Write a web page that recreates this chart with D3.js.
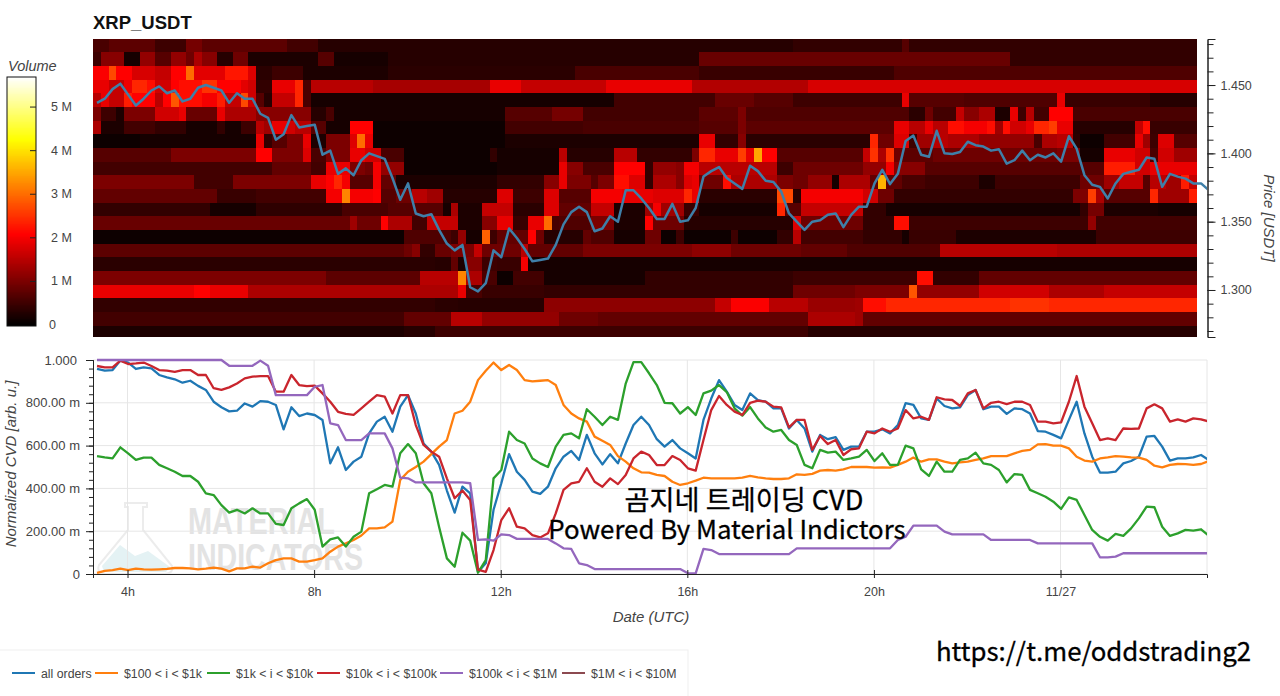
<!DOCTYPE html>
<html><head><meta charset="utf-8">
<script src="https://cdn.jsdelivr.net/npm/d3@7/dist/d3.min.js"></script>
<style>html,body{margin:0;padding:0;background:#fff}svg{display:block}text{font-family:"Liberation Sans",Arial,sans-serif}</style>
</head><body><svg id="c" width="1280" height="696"></svg>
<script>
const title="XRP_USDT";
const xTickHours=[4,8,12,16,20,24];
const xTickLabels=["4h","8h","12h","16h","20h","11/27"];
const priceTicks=[1.30,1.35,1.40,1.45];
const cvdTicks=[0,0.2,0.4,0.6,0.8,1];
const cvdTickLabels=["0","200.00 m","400.00 m","600.00 m","800.00 m","1.000"];
const volTicks=[0,1,2,3,4,5];
const volTickLabels=["0","1 M","2 M","3 M","4 M","5 M"];
const seriesNames=["all orders","$100 < i < $1k","$1k < i < $10k","$10k < i < $100k","$100k < i < $1M","$1M < i < $10M"];
const seriesColors=["#1f77b4","#ff7f0e","#2ca02c","#c9252d","#9467bd","#8c4a50"];

const price=[1.437,1.440,1.447,1.451,1.443,1.435,1.440,1.446,1.449,1.444,1.446,1.438,1.440,1.448,1.450,1.448,1.446,1.437,1.444,1.440,1.440,1.429,1.426,1.410,1.414,1.428,1.419,1.420,1.421,1.399,1.402,1.385,1.389,1.384,1.395,1.400,1.398,1.396,1.382,1.366,1.378,1.356,1.354,1.3555,
1.344,1.334,1.329,1.333,1.302,1.299,1.305,1.329,1.324,1.345,1.338,1.330,1.321,1.322,1.323,1.333,1.348,1.357,1.361,1.357,1.343,1.345,1.354,1.350,1.373,1.373,1.367,1.360,1.352,1.352,1.363,1.350,1.351,1.360,1.383,1.387,1.390,1.382,1.378,1.374,1.391,1.387,1.380,1.379,1.372,1.356,1.350,1.344,1.350,1.351,1.355,1.356,1.346,1.355,
1.361,1.361,1.378,1.388,1.3775,1.385,1.409,1.413,1.399,1.3975,1.4165,1.400,1.3995,1.401,1.4085,1.406,1.405,1.402,1.403,1.3925,1.395,1.402,1.395,1.399,1.397,1.400,1.394,1.4125,1.4035,1.384,1.377,1.3755,1.367,1.378,1.385,1.3865,1.388,1.397,1.396,1.3755,1.385,1.383,1.3815,1.378,1.378,1.373];

const allOrders=[.958,.95,.953,.997,.988,.958,.966,.961,.93,.919,.91,.894,.903,.879,.86,.805,.779,.76,.763,.797,.782,.808,.805,.79,.676,.779,.738,.75,.743,.72,.517,.592,.486,.525,.548,.657,.712,.735,.665,.782,.836,.75,.61,.572,
.51,.39,.287,.408,.377,.01,.05,.30,.424,.56,.478,.44,.385,.374,.408,.494,.548,.575,.533,.65,.564,.512,.56,.517,.61,.696,.735,.696,.63,.595,.626,.587,.564,.54,.72,.82,.906,.852,.79,.766,.844,.813,.805,.774,.774,.68,.72,.68,.572,.65,.63,.64,.58,.595,
.595,.665,.665,.676,.657,.696,.798,.79,.727,.72,.82,.785,.774,.779,.836,.86,.77,.782,.782,.748,.774,.77,.75,.668,.665,.65,.634,.72,.805,.657,.548,.474,.474,.478,.517,.528,.548,.642,.645,.595,.53,.54,.54,.545,.556,.533];
const orders100=[.005,.015,.018,.025,.018,.025,.022,.02,.022,.024,.028,.028,.026,.022,.025,.03,.025,.012,.026,.026,.034,.03,.05,.065,.073,.073,.058,.058,.065,.073,.104,.128,.143,.159,.18,.213,.213,.218,.245,.44,.478,.50,.525,.56,
.595,.626,.75,.763,.805,.906,.95,.988,.953,.977,.953,.906,.9,.903,.906,.883,.79,.75,.727,.712,.642,.623,.603,.551,.525,.494,.475,.474,.463,.458,.431,.416,.424,.436,.45,.447,.447,.447,.447,.45,.458,.452,.447,.444,.444,.447,.466,.463,.468,.483,.486,.483,.489,.50,
.50,.50,.497,.498,.497,.51,.525,.544,.525,.536,.536,.525,.517,.522,.525,.533,.54,.551,.551,.551,.564,.575,.58,.606,.607,.60,.60,.587,.548,.53,.525,.54,.545,.551,.548,.545,.544,.533,.506,.498,.51,.514,.513,.51,.514,.528];
const orders1k=[.551,.545,.54,.592,.564,.533,.544,.544,.51,.494,.478,.458,.458,.431,.377,.369,.322,.287,.30,.283,.307,.283,.283,.234,.229,.307,.33,.35,.30,.128,.162,.171,.128,.174,.198,.377,.396,.416,.408,.564,.607,.564,.424,.377,
.22,.073,.034,.193,.156,.006,.065,.447,.486,.665,.626,.61,.54,.517,.50,.595,.65,.657,.634,.77,.735,.696,.735,.72,.89,.99,.99,.938,.883,.80,.798,.75,.78,.743,.844,.857,.883,.85,.774,.74,.78,.727,.685,.665,.673,.626,.603,.51,.494,.58,.567,.572,.533,.54,
.548,.58,.528,.564,.51,.51,.60,.587,.489,.458,.525,.478,.478,.533,.54,.567,.517,.51,.486,.428,.467,.463,.393,.377,.361,.338,.304,.358,.346,.276,.206,.174,.156,.187,.178,.213,.26,.315,.312,.221,.178,.19,.206,.203,.209,.178];
const orders10k=[.972,.966,.966,.997,.981,.984,.988,.972,.953,.95,.945,.953,.953,.93,.93,.868,.86,.872,.89,.914,.922,.925,.925,.852,.852,.93,.883,.878,.88,.844,.805,.758,.748,.744,.774,.805,.836,.829,.75,.836,.836,.696,.603,.572,
.548,.447,.354,.39,.346,.02,.01,.112,.252,.307,.221,.213,.182,.171,.19,.283,.393,.424,.431,.494,.431,.408,.447,.42,.463,.54,.572,.556,.509,.509,.551,.533,.494,.483,.626,.766,.832,.79,.759,.743,.80,.81,.805,.782,.779,.685,.72,.72,.58,.645,.607,.626,.556,.583,
.587,.665,.657,.68,.665,.68,.766,.727,.735,.72,.826,.816,.813,.785,.844,.86,.774,.80,.805,.794,.805,.805,.79,.712,.712,.704,.709,.805,.925,.782,.704,.626,.634,.626,.68,.678,.68,.774,.793,.774,.712,.723,.712,.727,.723,.712];
const orders100k=[1,1,1,1,1,1,1,1,1,1,1,1,1,1,1,1,1,.973,.973,.973,.973,.997,.973,.836,.836,.836,.836,.836,.875,.883,.704,.696,.626,.626,.626,.657,.657,.657,.587,.45,.447,.428,.428,.428,
.428,.428,.428,.428,.424,.159,.162,.156,.185,.182,.164,.164,.164,.164,.164,.143,.12,.117,.05,.042,.023,.023,.023,.023,.023,.023,.023,.023,.023,.023,.023,.023,.003,.003,.117,.112,.093,.093,.093,.093,.093,.093,.093,.093,.093,.093,.12,.12,.12,.12,.12,.12,.12,.12,
.12,.12,.12,.12,.12,.159,.174,.226,.226,.226,.226,.198,.185,.185,.185,.185,.185,.159,.159,.159,.159,.159,.159,.143,.143,.143,.143,.143,.143,.143,.143,.078,.078,.081,.097,.097,.097,.097,.097,.097,.097,.097,.097,.097,.097,.097];
const orders1M=[];

// heat-map rows, top (1.48) to bottom (1.27): runs of [column where the run ends, volume in millions]
const heat0=[[2,.6],[8,.75],[12,.5],[14,.95],[25,.75],[29,.55],[90,.3],[104,.4],[105,.7],[142,.4]];
const heat1=[[1,.5],[4,1.1],[6,.2],[8,1.2],[10,.7],[12,1.2],[13,.9],[14,1.4],[16,1.1],[18,.3],[20,.9],[29,.25],[31,.7],[38,.15],[78,.3],[118,.85],[142,.42]];
const heat2=[[2,2.05],[3,2.7],[5,2.1],[8,1.75],[10,1.6],[12,2.1],[13,3.0],[17,1.85],[20,2.25],[21,1.8],[23,.35],[27,.5],[38,.25],[62,.35],[78,.6],[103,.45],[142,.65]];
const heat3=[[2,1.9],[4,1.6],[5,1.95],[7,2.4],[8,2.15],[10,1.7],[11,2.1],[14,2.15],[16,2.5],[19,2.1],[20,1.85],[21,1.7],[23,.4],[26,1.9],[27,2.4],[28,.6],[36,1.5],[51,1.35],[55,1.9],[66,1.6],[77,1.9],[92,1.45],[142,1.75]];
const heat4=[[1,1.5],[2,1.9],[4,1.6],[5,2.3],[8,2.1],[9,1.5],[10,2.1],[11,2.8],[14,2.2],[16,2],[17,2.3],[19,1.6],[20,2.7],[21,1.7],[22,.7],[23,.3],[26,1.6],[27,2.4],[28,.6],[67,.18],[80,.55],[85,.85],[90,.7],[104,.5],[105,1.9],[112,.7],[124,.65],[125,1.9],[136,.45],[142,.3]];
const heat5=[[1,1],[3,.5],[4,.25],[8,1],[11,1.7],[12,1.9],[16,.85],[17,1.9],[21,1.4],[28,1.1],[30,.3],[31,.6],[53,.15],[59,.7],[63,.95],[78,.55],[83,.75],[84,1],[105,.65],[107,.35],[108,.9],[111,.55],[112,1.6],[114,1.1],[116,1.4],[118,.25],[119,1.9],[120,.5],[121,1.5],[123,.55],[126,2.1],[142,.6]];
const heat6=[[1,1.4],[4,.25],[8,.55],[12,.4],[16,.15],[17,.4],[19,.15],[21,.5],[22,1.5],[23,1.3],[25,1.9],[26,1.7],[28,1.5],[30,.7],[33,.15],[36,2.1],[53,.12],[63,.55],[78,.6],[83,.7],[84,1],[103,.75],[105,1.9],[107,1.5],[108,1.9],[110,1.5],[112,2.2],[115,2],[116,2.2],[117,1.3],[118,2.2],[120,1.7],[121,1.9],[123,2.4],[124,2.6],[126,1.9],[134,.3],[135,1.6],[136,2.2],[142,.45]];
const heat7=[[6,.12],[12,.2],[20,.15],[21,.2],[22,1.9],[23,.4],[25,.7],[27,1],[28,1.9],[30,.25],[33,1],[34,1.8],[35,3],[36,1.9],[53,.08],[78,.25],[80,1.9],[83,.4],[84,1.1],[100,.35],[101,2.4],[103,.9],[105,1.8],[106,.5],[108,1.3],[110,1.5],[114,1.4],[121,1.2],[122,.6],[124,1.4],[126,1.5],[127,.35],[130,.1],[134,.55],[135,1.9],[136,1.3],[137,.5],[139,1.8],[142,.7]];
const heat8=[[10,.7],[21,1],[23,2.1],[27,1],[28,1.8],[30,.6],[33,1],[35,1.9],[37,1.7],[40,.6],[51,.12],[52,.4],[60,.15],[61,1.5],[67,.3],[70,1.5],[77,.4],[78,1],[80,2.4],[83,1.9],[84,2.6],[85,1.9],[86,3.5],[88,2.1],[99,.7],[100,1.6],[101,2.5],[102,1.4],[103,2.5],[104,.9],[108,.75],[124,.9],[127,1],[130,.2],[134,1.9],[136,1.7],[137,.6],[139,1.7],[142,1.3]];
const heat9=[[23,.55],[28,.8],[30,.55],[33,1.9],[35,1],[36,.9],[37,2],[40,1.2],[52,.12],[60,.2],[61,1.9],[63,1.1],[67,.6],[71,2.1],[72,.4],[75,1.2],[76,1.1],[78,2],[88,1.5],[90,.5],[99,.9],[102,1.2],[103,2],[107,1.1],[130,.7],[134,2.3],[136,1.7],[142,1.9]];
const heat10=[[13,1],[18,.55],[28,1],[30,1.9],[31,2.1],[32,2.4],[33,2],[36,.7],[37,2],[39,.8],[52,.25],[58,.4],[60,1.1],[61,1.9],[64,1],[65,.7],[67,1],[69,2.2],[71,1.8],[72,.4],[75,1.4],[76,1.1],[77,1.8],[78,1.9],[81,.9],[82,2.2],[88,1.4],[90,1],[92,.9],[95,1.2],[96,.15],[100,1.4],[101,.8],[102,3.6],[104,.8],[107,.6],[114,.5],[116,.25],[125,.5],[127,.5],[130,.9],[132,1.3],[135,1.6],[136,.7],[138,1.5],[140,1.3],[141,2.3],[142,1.6]];
const heat11=[[16,.8],[21,.45],[30,.55],[32,2],[33,3.2],[36,2],[37,2.1],[39,.7],[41,.9],[43,1.5],[45,1.3],[52,.3],[54,1.8],[58,.5],[60,1.8],[64,.7],[68,2],[72,1.9],[76,1.8],[77,2.4],[78,1.9],[88,.35],[90,2.7],[91,.3],[99,2],[101,1.7],[103,.9],[126,.4],[128,1],[129,2.6],[130,1.4],[136,.7],[137,2.4],[141,1.3],[142,2.3]];
const heat12=[[15,.42],[21,.2],[32,.38],[38,.6],[45,.7],[46,.15],[47,1.4],[50,.25],[54,1.6],[58,.35],[60,1.8],[64,.8],[67,1.6],[71,.25],[72,1.3],[73,2],[76,1.3],[78,.45],[88,.18],[89,2.4],[91,.7],[99,1.6],[102,.4],[127,.18],[128,.4],[130,.95],[137,.22],[142,.18]];
const heat13=[[33,.85],[34,1.3],[37,.9],[38,2.1],[41,1.4],[43,.55],[47,1.6],[50,.25],[52,1.1],[54,1.9],[56,.45],[58,1.9],[59,3],[60,.6],[64,.65],[67,1],[71,.25],[72,2.1],[76,.9],[90,.3],[91,1.8],[99,.9],[103,.4],[105,2.2],[128,.5],[129,1.2],[142,.55]];
const heat14=[[32,.12],[40,.09],[46,.65],[47,.5],[48,1.2],[50,.15],[51,2.9],[52,.5],[56,.8],[57,2.1],[58,.9],[63,.3],[64,.8],[67,.65],[71,.15],[73,.9],[75,.1],[76,.5],[82,.12],[83,.5],[88,.12],[90,.4],[91,1.5],[99,.55],[104,.4],[105,.15],[111,.45],[129,.25],[142,.5]];
const heat15=[[32,.75],[40,.75],[41,.9],[42,1.1],[44,.4],[46,.85],[49,1],[50,1.6],[55,.9],[56,1.5],[63,.8],[77,1],[82,1.15],[91,.9],[97,.8],[109,.65],[124,1.5],[142,1.4]];
const heat16=[[44,.35],[46,.3],[47,.8],[48,.25],[50,1.1],[52,.5],[55,.45],[56,2],[58,.2],[98,.15],[142,.15]];
const heat17=[[30,1],[42,.75],[47,1.5],[48,3.2],[50,1.4],[52,.6],[54,.12],[58,.55],[71,.15],[90,.4],[106,.5],[108,2.2],[114,.4],[142,.8]];
const heat18=[[13,1.9],[15,2.1],[20,1.9],[44,1.4],[47,1.4],[48,1.9],[50,.6],[58,.45],[90,.4],[98,.9],[105,1],[106,2.8],[114,1.2],[123,1.7],[130,1.4],[142,1.6]];
const heat19=[[44,.42],[47,.35],[58,.3],[80,1.15],[82,1.6],[87,2.05],[92,1.5],[98,1.25],[99,1.3],[102,2.2],[118,2.4],[123,2.5],[142,2.4]];
const heat20=[[40,.55],[44,.8],[46,.8],[50,1.5],[60,1.2],[65,.9],[92,.8],[98,1.4],[99,1.3],[142,.8]];
const heat21=[[40,.25],[44,.3],[92,.5],[142,.32]];
const heatRows=[heat0,heat1,heat2,heat3,heat4,heat5,heat6,heat7,heat8,heat9,heat10,heat11,heat12,heat13,heat14,heat15,heat16,heat17,heat18,heat19,heat20,heat21];

const svg=d3.select("#c");
const FONT='"Liberation Sans",Arial,sans-serif';
const x=d3.scaleLinear().domain([3.26,27.14]).range([93,1207]);
const yP=d3.scaleLinear().domain([1.2656,1.4837]).range([337,39]);
const yC=d3.scaleLinear().domain([0,1]).range([574,360]);
const yV=d3.scaleLinear().domain([0,5.69]).range([325,77]);
const hot=d3.scaleLinear().domain([0,2.08,4.25,5.69]).range(["#000000","#ff0000","#ffff00","#ffffff"]).clamp(true);
const heatStart=3.26, stepH=1/6, lineStart=3.346, binSize=0.01, topBinLow=1.474;

const defs=svg.append("defs");
defs.append("clipPath").attr("id","hc").append("rect").attr("x",x(3.26)).attr("y",yP.range()[1]).attr("width",x(heatStart+142*stepH)-x(3.26)).attr("height",298);
defs.append("clipPath").attr("id","lc").append("rect").attr("x",x.range()[0]).attr("y",yP.range()[1]).attr("width",x.range()[1]-x.range()[0]).attr("height",298);
defs.append("clipPath").attr("id","cc").append("rect").attr("x",x.range()[0]).attr("y",358).attr("width",x.range()[1]-x.range()[0]).attr("height",218);
defs.append("filter").attr("id","soft").attr("x","-2%").attr("y","-2%").attr("width","104%").attr("height","104%")
  .append("feGaussianBlur").attr("stdDeviation",0.7);

// title
svg.append("text").attr("x",93).attr("y",29).attr("font-size",18.5).attr("font-weight","bold").attr("fill","#111").text(title);

// heat map
const gH=svg.append("g").attr("clip-path","url(#hc)").append("g").attr("filter","url(#soft)").attr("shape-rendering","crispEdges");
heatRows.forEach((runs,i)=>{
  const low=topBinLow-i*binSize;
  let start=0;
  runs.forEach(([end,v])=>{
    gH.append("rect").attr("x",x(heatStart+start*stepH)).attr("width",x(heatStart+end*stepH)-x(heatStart+start*stepH))
      .attr("y",yP(low+binSize)).attr("height",yP(low)-yP(low+binSize)).attr("fill",hot(v));
    start=end;
  });
});
const tOf=i=>lineStart+i*stepH;
svg.append("path").datum(price).attr("clip-path","url(#lc)").attr("fill","none").attr("stroke","#3f7fa8").attr("stroke-width",2.5)
  .attr("stroke-linejoin","round").attr("d",d3.line().x((d,i)=>x(tOf(i))).y(d=>yP(d)));

// price axis
function styleAxis(g,size,color="#444"){
  g.selectAll("path.domain").attr("stroke","#222");
  g.selectAll("line").attr("stroke","#222");
  g.selectAll("text").attr("font-family",FONT).attr("font-size",size).attr("fill",color);
}
const minorP=d3.range(1.27,1.485,0.01).map(d=>+d.toFixed(2));
const gPm=svg.append("g").attr("transform",`translate(${x.range()[1]+0.5},0)`).call(d3.axisRight(yP).tickValues(minorP).tickSize(6).tickFormat(""));
styleAxis(gPm,12);
const gP=svg.append("g").attr("transform",`translate(${x.range()[1]+0.5},0)`).call(d3.axisRight(yP).tickValues(priceTicks).tickSize(8).tickPadding(5).tickFormat(d3.format(".3f")));
styleAxis(gP,12.5);
svg.append("text").attr("transform","translate(1264,218) rotate(90)").attr("text-anchor","middle").attr("font-size",15).attr("font-style","italic").attr("fill","#444").text("Price [USDT]");

// colour bar
svg.append("text").attr("x",8).attr("y",71).attr("font-size",14.5).attr("font-style","italic").attr("fill","#444").text("Volume");
const gB=svg.append("g").attr("shape-rendering","crispEdges");
d3.range(0,5.69,0.02).forEach(v=>{
  gB.append("rect").attr("x",7).attr("width",29).attr("y",yV(v+0.02)).attr("height",yV(v)-yV(v+0.02)+0.5).attr("fill",hot(v));
});
svg.append("rect").attr("x",7).attr("y",77).attr("width",29).attr("height",249).attr("fill","none").attr("stroke","#111").attr("stroke-width",1);
volTicks.forEach((v,i)=>{
  if(v>0) svg.append("line").attr("x1",30).attr("x2",36).attr("y1",yV(v)).attr("y2",yV(v)).attr("stroke","#222");
  svg.append("text").attr("x",v>0?51:49).attr("y",yV(v)+4).attr("font-size",12.5).attr("fill","#444").text(volTickLabels[i]);
});

// watermark
const wm=svg.append("g");
wm.append("path").attr("d","M125,503 L147,503 L147,507 L143,507 L143,530 L172,566 Q174,573 165,574 L106,574 Q96,573 99,565 L128,530 L128,507 L125,507 Z")
  .attr("fill","#fff").attr("stroke","#ececec").attr("stroke-width",2);
wm.append("path").attr("d","M102,566 L120,545 L135,556 L148,551 L170,567 L166,572 L104,572 Z").attr("fill","#e4f2f4");
wm.append("text").attr("x",188).attr("y",534).attr("font-size",37).attr("font-weight","bold").attr("fill","#e3e3e3").attr("textLength",147).attr("lengthAdjust","spacingAndGlyphs").text("MATERIAL");
wm.append("text").attr("x",188).attr("y",570).attr("font-size",37).attr("font-weight","bold").attr("fill","#e3e3e3").attr("textLength",175).attr("lengthAdjust","spacingAndGlyphs").text("INDICATORS");

// CVD grid
const gG=svg.append("g").attr("stroke","#e6e6e6").attr("stroke-width",1);
cvdTicks.forEach(v=>gG.append("line").attr("x1",x.range()[0]).attr("x2",x.range()[1]).attr("y1",yC(v)).attr("y2",yC(v)));
xTickHours.forEach(h=>gG.append("line").attr("x1",x(h)).attr("x2",x(h)).attr("y1",yC(0)).attr("y2",yC(1)));
gG.append("line").attr("x1",x.range()[1]).attr("x2",x.range()[1]).attr("y1",yC(0)).attr("y2",yC(1));

// CVD lines
const seriesAll=[allOrders,orders100,orders1k,orders10k,orders100k,orders1M];
const cvdLine=d3.line().x((d,i)=>x(tOf(i))).y(d=>yC(d));
const gL=svg.append("g").attr("clip-path","url(#cc)");
seriesAll.forEach((s,i)=>{ if(s.length) gL.append("path").datum(s).attr("fill","none").attr("stroke",seriesColors[i]).attr("stroke-width",2.3).attr("stroke-linejoin","round").attr("d",cvdLine); });

// CVD axes
const minorC=d3.range(0,1.0001,0.04).map(d=>+d.toFixed(2));
const gCm=svg.append("g").attr("transform",`translate(${x.range()[0]},0)`).call(d3.axisLeft(yC).tickValues(minorC).tickSize(4).tickFormat(""));
styleAxis(gCm,12);
const gC=svg.append("g").attr("transform",`translate(${x.range()[0]},0)`).call(d3.axisLeft(yC).tickValues(cvdTicks).tickSize(7).tickPadding(6).tickFormat((d,i)=>cvdTickLabels[i]));
styleAxis(gC,13);
gC.selectAll(".tick text").filter(d=>d===1).attr("dx",-3);
const gX=svg.append("g").attr("transform",`translate(0,${yC(0)})`).call(d3.axisBottom(x).tickValues(xTickHours).tickSize(4).tickPadding(9).tickFormat((d,i)=>xTickLabels[i]));
styleAxis(gX,12.5);
gX.selectAll(".tick line").attr("y1",-4);
svg.append("text").attr("transform","translate(16,464) rotate(-90)").attr("text-anchor","middle").attr("font-size",15).attr("font-style","italic").attr("fill","#444").text("Normalized CVD [arb. u.]");
svg.append("text").attr("x",651).attr("y",622).attr("text-anchor","middle").attr("font-size",15).attr("font-style","italic").attr("fill","#444").text("Date (UTC)");

// legend
svg.append("rect").attr("x",-2).attr("y",650).attr("width",690).attr("height",50).attr("fill","#fff").attr("stroke","#efefef");
const legendLineX=[12,95,207,317,440,562];
const gLg=svg.append("g");
seriesNames.forEach((n,i)=>{
  gLg.append("line").attr("x1",legendLineX[i]).attr("x2",legendLineX[i]+23).attr("y1",673).attr("y2",673).attr("stroke",seriesColors[i]).attr("stroke-width",2);
  gLg.append("text").attr("x",legendLineX[i]+29).attr("y",677.5).attr("font-size",12.3).attr("fill","#444").attr("xml:space","preserve").text(n);
});

// overlay captions
const KR='"Noto Sans CJK KR","Noto Sans",sans-serif';
function caption(tx,ty,size,s){
  svg.append("text").attr("x",tx).attr("y",ty).attr("text-anchor","middle").attr("style",`font-family:${KR};font-size:${size}px`).attr("fill","#000").attr("stroke","#000").attr("stroke-width",0.3).text(s);
}
caption(744,510,27.2,"곰지네 트레이딩 CVD");
caption(727,539,25.8,"Powered By Material Indictors");
caption(1093.5,661,25.8,"https://t.me/oddstrading2");
</script></body></html>
